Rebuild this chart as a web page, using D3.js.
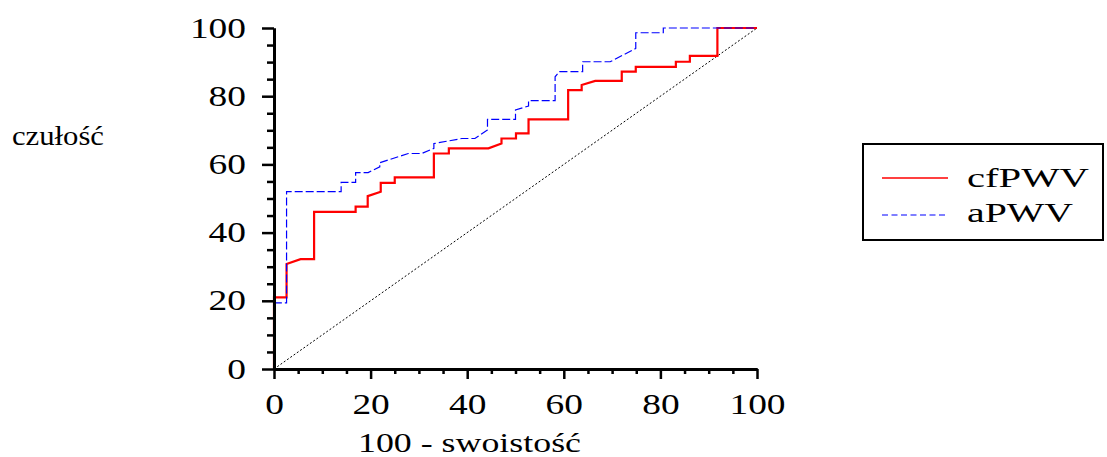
<!DOCTYPE html>
<html><head><meta charset="utf-8">
<script src="https://cdn.jsdelivr.net/npm/d3@7"></script>
<style>html,body{margin:0;padding:0;background:#fff;} text{font-family:"Times New Roman","Liberation Serif",Times,serif;fill:#000;}</style>
</head><body>
<svg id="c" width="1107" height="457"></svg>
<script>
// ROC curves: x = 100 - specificity, y = sensitivity
const cfPWV_x = [0,0,2.6,2.6,5.5,8.3,8.3,16.9,16.9,19.4,19.4,22.1,22.1,25.0,25.0,33.1,33.1,36.2,36.2,44.4,47.1,47.1,50.1,50.1,52.7,52.7,60.9,60.9,63.7,63.7,66.5,72.0,72.0,74.9,74.9,83.2,83.2,86.1,86.1,91.8,91.8,100];
const cfPWV_y = [0,21,21,30.8,32.2,32.2,46.1,46.1,47.6,47.6,50.7,52.0,54.6,54.6,56.2,56.2,63.2,63.2,64.7,64.7,66.1,67.6,67.6,69.1,69.1,73.2,73.2,81.8,81.8,83.3,84.5,84.5,87.2,87.2,88.6,88.6,90.1,90.1,91.8,91.8,100,100];
const aPWV_x = [0,0,2.6,2.6,13.9,13.9,16.9,16.9,19.5,21.9,21.9,27.8,30.6,33.1,33.1,38.9,41.6,44.2,44.2,50.0,50.0,52.7,52.7,58.2,58.2,59.1,63.9,63.9,69.6,74.9,74.9,80.6,80.6,100];
const aPWV_y = [0,19.4,19.4,52.0,52.0,54.7,54.7,57.6,57.6,59.3,60.5,63.2,63.2,64.7,66.1,67.6,67.6,70.1,73.2,73.2,76.0,77.1,78.7,78.7,85.7,87.2,87.2,90.1,90.1,94.0,98.6,98.6,100,100];
const refLine = [0,100];
const majorTicks = [0,20,40,60,80,100];
const minorTicks = [5,10,15,25,30,35,45,50,55,65,70,75,85,90,95];
const seriesNames = ["cfPWV","aPWV"];
const xTitle = "100 - swoistość";
const yTitle = "czułość";

const svg = d3.select("#c");
const x = d3.scaleLinear().domain([0,100]).range([274,757]);
const y = d3.scaleLinear().domain([0,100]).range([369,28]);
const SX = 1.29;

// diagonal reference
svg.append("line")
  .attr("x1", x(refLine[0])).attr("y1", y(refLine[0]))
  .attr("x2", x(refLine[1])).attr("y2", y(refLine[1]))
  .attr("stroke","#000").attr("stroke-width",1).attr("stroke-dasharray","2,2");

const line = d3.line().x(d=>x(d[0])).y(d=>y(d[1]));
svg.append("path").datum(d3.zip(cfPWV_x,cfPWV_y)).attr("d",line)
  .attr("fill","none").attr("stroke","#ff0000").attr("stroke-width",2.2);
svg.append("path").datum(d3.zip(aPWV_x,aPWV_y)).attr("d",line)
  .attr("fill","none").attr("stroke","#0000ff").attr("stroke-width",1.2).attr("stroke-dasharray","8,3");

// axes
const yMinor = svg.append("g").attr("transform",`translate(${x(0)},0)`)
  .call(d3.axisLeft(y).tickValues(minorTicks).tickSize(7).tickSizeOuter(0).tickFormat(""));
const yMajor = svg.append("g").attr("transform",`translate(${x(0)},0)`)
  .call(d3.axisLeft(y).tickValues(majorTicks).tickSize(12).tickSizeOuter(0));
const xMinor = svg.append("g").attr("transform",`translate(0,${y(0)})`)
  .call(d3.axisBottom(x).tickValues(minorTicks).tickSize(5).tickSizeOuter(0).tickFormat(""));
const xMajor = svg.append("g").attr("transform",`translate(0,${y(0)})`)
  .call(d3.axisBottom(x).tickValues(majorTicks).tickSize(10).tickSizeOuter(0));

[yMinor,yMajor,xMinor,xMajor].forEach(g=>{
  g.attr("font-family",null).attr("font-size",null);
  g.select(".domain").attr("stroke","#000").attr("stroke-width",3);
  g.selectAll(".tick line").attr("stroke","#000").attr("stroke-width",2.5);
});
yMajor.selectAll(".tick text")
  .attr("font-size",29).attr("x",null).attr("dy",null).attr("y",9)
  .attr("transform",`translate(-28,0) scale(${SX},1)`).attr("text-anchor","end");
xMajor.selectAll(".tick text")
  .attr("font-size",29).attr("dy",null).attr("y",45)
  .attr("transform",`scale(${SX},1)`).attr("text-anchor","middle");

// titles
svg.append("text").attr("x",358).attr("y",452).attr("font-size",27)
  .attr("textLength",223).attr("lengthAdjust","spacingAndGlyphs").text(xTitle);
svg.append("text").attr("x",12).attr("y",145).attr("font-size",28)
  .attr("textLength",92).attr("lengthAdjust","spacingAndGlyphs").text(yTitle);

// legend
const lg = svg.append("g");
lg.append("rect").attr("x",863).attr("y",144).attr("width",240).attr("height",96)
  .attr("fill","none").attr("stroke","#000").attr("stroke-width",2);
lg.append("line").attr("x1",882).attr("x2",948).attr("y1",178).attr("y2",178)
  .attr("stroke","#ff0000").attr("stroke-width",1.5);
lg.append("line").attr("x1",882).attr("x2",948).attr("y1",215).attr("y2",215)
  .attr("stroke","#0000ff").attr("stroke-width",1.2).attr("stroke-dasharray","6,3.5");
lg.append("text").attr("x",967).attr("y",187).attr("font-size",28)
  .attr("textLength",122).attr("lengthAdjust","spacingAndGlyphs").text(seriesNames[0]);
lg.append("text").attr("x",967).attr("y",222).attr("font-size",28)
  .attr("textLength",106).attr("lengthAdjust","spacingAndGlyphs").text(seriesNames[1]);
</script>
</body></html>
